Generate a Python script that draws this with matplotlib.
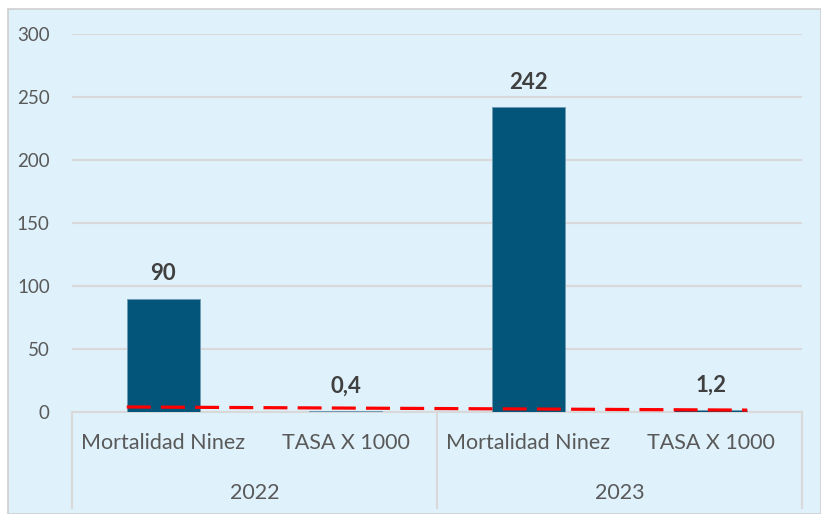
import matplotlib.pyplot as plt
from matplotlib.patches import Rectangle
from matplotlib.transforms import blended_transform_factory

# data
groups = ['2022', '2023']
sub_labels = ['Mortalidad Ninez', 'TASA X 1000']
values = [90, 0.4, 242, 1.2]
value_labels = ['90', '0,4', '242', '1,2']
trend_start = 4.0
trend_end = 1.5
y_ticks = [0, 50, 100, 150, 200, 250, 300]

bg = '#DFF1FB'
bar_color = '#03557A'
text_gray = '#595959'

plt.rcParams['font.family'] = ['Lato', 'DejaVu Sans']

fig = plt.figure(figsize=(8.21, 5.14), dpi=100)
fig.patch.set_facecolor('white')
# chart area background with thin border
fig.patches.append(Rectangle((8 / 821, 0), 1 - 8 / 821, 1 - 9 / 514, transform=fig.transFigure,
                             facecolor=bg, edgecolor='#D0D0D0', linewidth=1.2, zorder=-10))

ax = fig.add_axes([72 / 821, 102 / 514, 730 / 821, 378 / 514])
ax.set_facecolor('none')

x = list(range(len(values)))
ax.bar(x, values, width=0.4, color=bar_color, edgecolor='#6F9CB5', linewidth=0.6, zorder=3)

for xi, v, lab in zip(x, values, value_labels):
    ax.annotate(lab, (xi, v), xytext=(0, 18), textcoords='offset points',
                ha='center', va='center', fontsize=16, fontweight='bold', color='#404040', zorder=5)

# trend line
ax.plot([x[0] - 0.2, x[-1] + 0.2], [trend_start, trend_end], color='#FF0000', linewidth=2.3,
        linestyle=(0, (7.5, 3.2)), zorder=4)

ax.set_xlim(-0.5, len(values) - 0.5)
ax.set_ylim(0, 300)
ax.set_yticks(y_ticks)
ax.tick_params(axis='y', length=0, pad=16, labelsize=13.5, labelcolor=text_gray)
ax.set_xticks([])
ax.grid(axis='y', color='#D9D9D9', linewidth=1.5, zorder=1)
for s in ['top', 'right', 'left']:
    ax.spines[s].set_visible(False)
ax.spines['bottom'].set_color('#D9D9D9')
ax.spines['bottom'].set_linewidth(1.5)

# multi-level category axis
trans = blended_transform_factory(ax.transData, fig.transFigure)
for i, xi in enumerate(x):
    ax.text(xi, (514 - 443) / 514, sub_labels[i % 2], transform=trans, ha='center', va='center',
            fontsize=15.5, color=text_gray)
for g, name in enumerate(groups):
    ax.text(2 * g + 0.5, (514 - 493) / 514, name, transform=trans, ha='center', va='center',
            fontsize=15.5, color=text_gray)
for sep in [-0.5, 1.5, 3.5]:
    ax.plot([sep, sep], [102 / 514, 6 / 514], transform=trans, color='#D9D9D9', linewidth=1.5,
            clip_on=False)

fig.savefig('out.png', dpi=100, facecolor=fig.get_facecolor())
